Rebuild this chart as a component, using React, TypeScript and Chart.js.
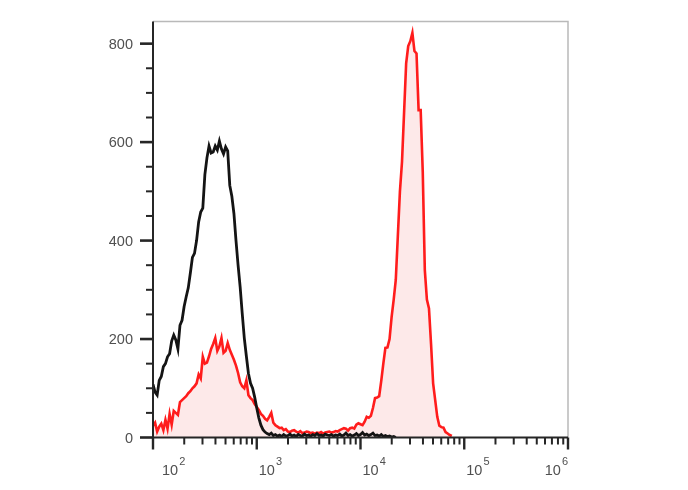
import React, { useEffect, useRef } from "react";
import { Chart, registerables } from "chart.js";

Chart.register(...registerables);

// Histogram channels: first bin position (log10 of fluorescence) and bin width in decades
const binStartExp = 2.0;
const binStepExp = 0.02;

// Isotype / unstained control (black)
const controlCounts = [
  108, 92, 86, 116, 124, 144, 150, 164, 170, 196,
  208, 198, 180, 228, 238, 266, 286, 304, 334, 366,
  374, 400, 438, 458, 466, 534, 568, 592, 578, 580,
  592, 584, 602, 586, 576, 590, 582, 512, 490, 455,
  400, 350, 306, 252, 202, 165, 130, 110, 100, 82,
  60, 40, 25, 16, 11, 8,
  6, 9, 4, 6, 3, 5, 2, 6, 3, 4, 7, 3, 5, 2, 6, 4, 3, 7, 4, 5,
  3, 6, 4, 8, 4, 5, 3, 7, 5, 4, 6, 3, 5, 4, 7, 3, 5, 9, 4, 6,
  3, 5, 8, 4, 6, 10, 5, 7, 4, 6, 9, 4, 5, 3, 6, 2, 4, 2, 3, 1,
  2, 0,
];

// Stained sample (red)
const stainedCounts = [
  24, 30, 12, 22, 28, 15, 36, 18, 48, 26,
  54, 50, 46, 72, 76, 80, 84, 90, 94, 100,
  104, 110, 128, 120, 164, 150, 152, 165, 180, 190,
  202, 176, 185, 202, 172, 176, 192, 178, 168, 158,
  146, 131, 112, 104, 100, 116, 86, 80, 76, 68,
  62, 56, 48, 44, 38, 35, 42, 50, 30, 25,
  22, 19, 20, 15, 17, 12, 11, 14, 15, 12,
  10, 13, 9, 10, 12, 11, 9, 10, 8, 10,
  9, 11, 8, 10, 11, 12, 10, 11, 13, 12,
  15, 17, 19, 18, 14, 19, 20, 18, 26, 29,
  27, 25, 32, 42, 40, 44, 60, 80, 81, 84,
  115, 150, 182, 183, 200, 245, 280, 320, 410, 500,
  560, 660, 760, 795, 805, 822, 785, 780, 665, 665,
  540, 340, 280, 262, 190, 110, 76, 42, 24, 21,
  20, 11, 8, 5, 3,
];

const yTickValues = [0, 200, 400, 600, 800];
const yMinorStep = 50;
const yMax = 845;
const xDecadeExponents = [2, 3, 4, 5, 6];
const xMin = 100;
const xMax = 1000000;

function toPoints(counts: number[]) {
  return counts.map((c, i) => ({ x: Math.pow(10, binStartExp + i * binStepExp), y: c }));
}

const axesPlugin = {
  id: "flowAxes",
  afterDatasetsDraw(chart: any) {
    const { ctx, chartArea: a, scales } = chart;
    const x = scales.x;
    const y = scales.y;
    ctx.save();

    // gray frame (top & right)
    ctx.strokeStyle = "#b9b9b9";
    ctx.lineWidth = 1.5;
    ctx.beginPath();
    ctx.moveTo(a.left, a.top);
    ctx.lineTo(a.right, a.top);
    ctx.lineTo(a.right, a.bottom);
    ctx.stroke();

    // axis lines
    ctx.strokeStyle = "#262626";
    ctx.lineWidth = 2;
    ctx.beginPath();
    ctx.moveTo(a.left, a.top);
    ctx.lineTo(a.left, a.bottom);
    ctx.lineTo(a.right, a.bottom);
    ctx.stroke();

    // y ticks
    for (let v = 0; v <= yMax; v += yMinorStep) {
      const py = y.getPixelForValue(v);
      const major = yTickValues.includes(v);
      ctx.lineWidth = major ? 2.6 : 2;
      ctx.beginPath();
      ctx.moveTo(a.left - (major ? 13 : 7), py);
      ctx.lineTo(a.left, py);
      ctx.stroke();
    }

    // x ticks
    xDecadeExponents.forEach((d, idx) => {
      const px = x.getPixelForValue(Math.pow(10, d));
      ctx.lineWidth = 2.4;
      ctx.beginPath();
      ctx.moveTo(px, a.bottom);
      ctx.lineTo(px, a.bottom + 12);
      ctx.stroke();
      if (idx < xDecadeExponents.length - 1) {
        for (let k = 2; k <= 9; k++) {
          const mx = x.getPixelForValue(k * Math.pow(10, d));
          ctx.lineWidth = 2;
          ctx.beginPath();
          ctx.moveTo(mx, a.bottom);
          ctx.lineTo(mx, a.bottom + 7);
          ctx.stroke();
        }
      }
    });

    // y labels
    ctx.fillStyle = "#505050";
    ctx.font = '14.5px "Liberation Sans", Arial, sans-serif';
    ctx.textAlign = "right";
    ctx.textBaseline = "middle";
    yTickValues.forEach((v) => {
      ctx.fillText(String(v), a.left - 20, y.getPixelForValue(v) + 1);
    });

    // x labels: 10 with superscript exponent
    ctx.textAlign = "left";
    ctx.textBaseline = "alphabetic";
    const baseFont = '14.5px "Liberation Sans", Arial, sans-serif';
    const expFont = '11px "Liberation Sans", Arial, sans-serif';
    xDecadeExponents.forEach((d, idx) => {
      const px = x.getPixelForValue(Math.pow(10, d));
      ctx.font = baseFont;
      const wBase = ctx.measureText("10").width;
      ctx.font = expFont;
      const wExp = ctx.measureText(String(d)).width;
      let left = px + 2;
      if (idx === 0) left = px + 9;
      if (idx === xDecadeExponents.length - 1) left = a.right - (wBase + 1 + wExp);
      ctx.font = baseFont;
      ctx.fillText("10", left, a.bottom + 37);
      ctx.font = expFont;
      ctx.fillText(String(d), left + wBase + 1, a.bottom + 27);
    });

    ctx.restore();
  },
};

export default function App() {
  const canvasRef = useRef<HTMLCanvasElement | null>(null);

  useEffect(() => {
    if (!canvasRef.current) return;
    const chart = new Chart(canvasRef.current, {
      type: "line",
      data: {
        datasets: [
          {
            label: "Control",
            data: toPoints(controlCounts),
            borderColor: "#141414",
            borderWidth: 2.8,
            pointRadius: 0,
            tension: 0,
            fill: false,
          },
          {
            label: "Stained",
            data: toPoints(stainedCounts),
            borderColor: "#ff1c1c",
            backgroundColor: "#fde9e9",
            borderWidth: 2.6,
            pointRadius: 0,
            tension: 0,
            fill: "origin",
          },
        ],
      },
      options: {
        animation: false,
        responsive: true,
        maintainAspectRatio: false,
        events: [],
        layout: { padding: { left: 153, top: 21.5, right: 120, bottom: 52.5 } },
        plugins: { legend: { display: false }, tooltip: { enabled: false } },
        scales: {
          x: { type: "logarithmic", min: xMin, max: xMax, display: false },
          y: { type: "linear", min: 0, max: yMax, display: false },
        },
      },
      plugins: [axesPlugin],
    });
    return () => chart.destroy();
  }, []);

  return (
    <div style={{ position: "fixed", left: 0, top: 0, width: 688, height: 490, background: "#ffffff" }}>
      <canvas ref={canvasRef} />
    </div>
  );
}
